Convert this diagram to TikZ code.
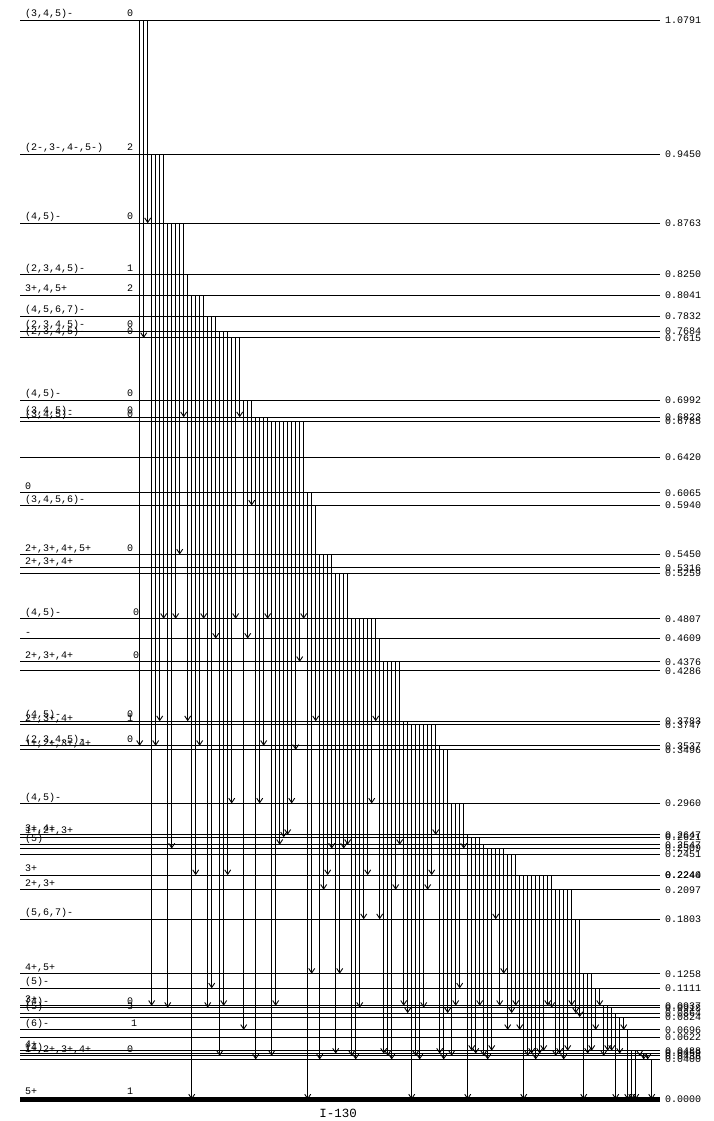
\documentclass[tikz,border=0pt]{standalone}
\usepackage{fontspec}
\setmainfont{Liberation Mono}
\usetikzlibrary{arrows.meta}
\begin{document}
\begin{tikzpicture}[x=1pt,y=-1pt,
  lvl/.style={line width=1pt},
  gnd/.style={line width=4.5pt},
  gam/.style={line width=0.9pt,-{Straight Barb[length=4.5pt,width=6pt,line width=0.9pt]}},
  rlab/.style={anchor=west,inner sep=0pt,font=\fontsize{10}{11}\selectfont},
  llab/.style={anchor=base west,inner sep=0pt,font=\fontsize{10}{11}\selectfont},
  ttl/.style={anchor=center,inner sep=0pt,font=\fontsize{12.5}{13}\selectfont}]
\useasboundingbox (0,0) rectangle (713,1121);
% levels: energy / spin label / K label / K x position
\foreach \E/\sp/\K/\kx in {
  1.0791/{(3,4,5)-}/0/127,
  0.9450/{(2-,3-,4-,5-)}/2/127,
  0.8763/{(4,5)-}/0/127,
  0.8250/{(2,3,4,5)-}/1/127,
  0.8041/{3+,4,5+}/2/127,
  0.7832/{(4,5,6,7)-}/{}/127,
  0.7684/{(2,3,4,5)-}/0/127,
  0.7615/{(2,3,4,5)-}/0/127,
  0.6992/{(4,5)-}/0/127,
  0.6823/{(3,4,5)-}/0/127,
  0.6785/{(3,4,5)-}/0/127,
  0.6420/{}/{}/127,
  0.6065/0/{}/127,
  0.5940/{(3,4,5,6)-}/{}/127,
  0.5450/{2+,3+,4+,5+}/0/127,
  0.5316/{2+,3+,4+}/{}/127,
  0.5259/{}/{}/127,
  0.4807/{(4,5)-}/0/133,
  0.4609/{-}/{}/127,
  0.4376/{2+,3+,4+}/0/133,
  0.4286/{}/{}/127,
  0.3783/{(4,5)-}/0/127,
  0.3747/{2+,3+,4+}/1/127,
  0.3537/{(2,3,4,5)-}/0/127,
  0.3496/{1+,2+,3+,4+}/{}/127,
  0.2960/{(4,5)-}/{}/127,
  0.2647/{3+,4+}/{}/127,
  0.2621/{1+,2+,3+}/{}/127,
  0.2547/{(5)}/{}/127,
  0.2509/{}/{}/127,
  0.2451/{}/{}/127,
  0.2244/{3+}/{}/127,
  0.2240/{}/{}/127,
  0.2097/{2+,3+}/{}/127,
  0.1803/{(5,6,7)-}/{}/127,
  0.1258/{4+,5+}/{}/127,
  0.1111/{(5)-}/{}/127,
  0.0937/{3+}/{}/127,
  0.0918/{(4)-}/0/127,
  0.0864/{(5)}/3/127,
  0.0824/{}/{}/127,
  0.0696/{(6)-}/1/131,
  0.0622/{}/{}/127,
  0.0488/{4+}/{}/127,
  0.0459/{(4)}/{}/127,
  0.0436/{1+,2+,3+,4+}/0/127,
  0.0400/{}/{}/127}
{
  \draw[lvl] (20,{1099.5-1000*\E}) -- (660,{1099.5-1000*\E});
  \node[rlab] at (665,{1099.5-1000*\E}) {\E};
  \node[llab] at (25,{1099.5-1000*\E-3.5}) {\sp};
  \node[llab] at (\kx,{1099.5-1000*\E-3.5}) {\K};
}
% ground state
\draw[gnd] (20,1099.5) -- (660,1099.5);
\node[rlab] at (665,1099.5) {0.0000};
\node[llab] at (25,1094) {5+};
\node[llab] at (127,1094) {1};
\node[ttl] (title) at (338,1113) {I-130};
% gamma transitions: index / initial energy / final energy
\foreach \i/\a/\b in {
 0/1.0791/0.3537, 1/1.0791/0.7615, 2/1.0791/0.8763,
 3/0.9450/0.0937, 4/0.9450/0.3537, 5/0.9450/0.3783, 6/0.9450/0.4807,
 7/0.8763/0.0918, 8/0.8763/0.2509, 9/0.8763/0.4807, 10/0.8763/0.5450, 11/0.8763/0.6823,
 12/0.8250/0.3783,
 13/0.8041/0.0000, 14/0.8041/0.2244, 15/0.8041/0.3537, 16/0.8041/0.4807,
 17/0.7832/0.0918, 18/0.7832/0.1111, 19/0.7832/0.4609,
 20/0.7684/0.0436, 21/0.7684/0.0937, 22/0.7684/0.2244,
 23/0.7615/0.2960, 24/0.7615/0.4807, 25/0.7615/0.6823,
 26/0.6992/0.0696, 27/0.6992/0.4609, 28/0.6992/0.5940,
 29/0.6823/0.0400, 30/0.6823/0.2960, 31/0.6823/0.3537, 32/0.6823/0.4807,
 33/0.6785/0.0436, 34/0.6785/0.0937, 35/0.6785/0.2547, 36/0.6785/0.2621, 37/0.6785/0.2647,
 38/0.6785/0.2960, 39/0.6785/0.3496, 40/0.6785/0.4376, 41/0.6785/0.4807,
 42/0.6065/0.0000, 43/0.6065/0.1258,
 44/0.5940/0.3783,
 45/0.5450/0.0400, 46/0.5450/0.2097, 47/0.5450/0.2244, 48/0.5450/0.2509,
 49/0.5259/0.0459, 50/0.5259/0.1258, 51/0.5259/0.2509, 52/0.5259/0.2547,
 53/0.4807/0.0436, 54/0.4807/0.0400, 55/0.4807/0.0918, 56/0.4807/0.1803, 57/0.4807/0.2244,
 58/0.4807/0.2960, 59/0.4807/0.3783,
 60/0.4609/0.1803,
 61/0.4376/0.0459, 62/0.4376/0.0436, 63/0.4376/0.0400, 64/0.4376/0.2097, 65/0.4376/0.2547,
 66/0.3783/0.0937, 67/0.3783/0.0864,
 68/0.3747/0.0000, 69/0.3747/0.0436, 70/0.3747/0.0400, 71/0.3747/0.0918, 72/0.3747/0.2097,
 73/0.3747/0.2244, 74/0.3747/0.2647,
 75/0.3537/0.0459,
 76/0.3496/0.0400, 77/0.3496/0.0864,
 78/0.2960/0.0436, 79/0.2960/0.0937, 80/0.2960/0.1111, 81/0.2960/0.2509,
 82/0.2647/0.0000,
 83/0.2621/0.0488, 84/0.2621/0.0459, 85/0.2621/0.0937,
 86/0.2547/0.0436,
 87/0.2509/0.0400, 88/0.2509/0.0488, 89/0.2509/0.1803, 90/0.2509/0.0937, 91/0.2509/0.1258,
 92/0.2451/0.0696, 93/0.2451/0.0864, 94/0.2451/0.0937,
 95/0.2244/0.0696, 96/0.2244/0.0000, 97/0.2244/0.0436, 98/0.2244/0.0459, 99/0.2244/0.0400,
 100/0.2240/0.0459, 101/0.2240/0.0488, 102/0.2240/0.0937, 103/0.2240/0.0918,
 104/0.2097/0.0436, 105/0.2097/0.0459, 106/0.2097/0.0400, 107/0.2097/0.0488, 108/0.2097/0.0937,
 109/0.1803/0.0864, 110/0.1803/0.0824,
 111/0.1258/0.0000, 112/0.1258/0.0459, 113/0.1258/0.0488,
 114/0.1111/0.0696, 115/0.1111/0.0937,
 116/0.0937/0.0436, 117/0.0937/0.0488,
 118/0.0918/0.0488,
 119/0.0864/0.0000,
 120/0.0824/0.0459, 121/0.0824/0.0696,
 122/0.0696/0.0000,
 123/0.0488/0.0000, 124/0.0488/0.0000,
 125/0.0459/0.0436, 126/0.0459/0.0400,
 127/0.0436/0.0400,
 128/0.0400/0.0000}
{
  \draw[gam] ({139.7+4*\i},{1099.5-1000*\a}) -- ({139.7+4*\i},{1099.5-1000*\b});
}
\end{tikzpicture}
\end{document}
